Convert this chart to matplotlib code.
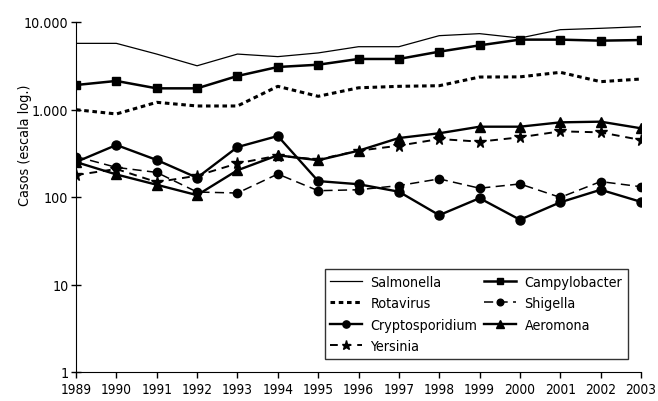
import matplotlib.pyplot as plt
from matplotlib.ticker import FixedLocator, NullLocator

# condensed sans to mimic the narrow font of the original
plt.rcParams["font.family"] = ["DejaVu Sans"]
plt.rcParams["font.stretch"] = "condensed"

years = list(range(1989, 2004))

salmonella = [5700, 5700, 4300, 3160, 4300, 4020, 4430, 5220, 5220, 6980,
              7360, 6560, 8170, 8470, 8840]
campylobacter = [1905, 2120, 1745, 1745, 2415, 3060, 3250, 3780, 3780, 4580,
                 5410, 6290, 6290, 6120, 6220]
rotavirus = [995, 889, 1208, 1097, 1097, 1840, 1415, 1770, 1840, 1870,
             2350, 2360, 2660, 2080, 2230]
shigella = [290, 218, 191, 114, 111, 183, 118, 121, 135, 161,
            126, 141, 99, 150, 131]
cryptosporidium = [251, 393, 265, 166, 372, 498, 152, 140, 115, 62,
                   97, 55, 87, 121, 88]
aeromona = [251, 181, 138, 105, 202, 300, 263, 338, 472, 535,
            636, 636, 713, 726, 610]
yersinia = [178, 209, 148, 175, 242, 297, 268, 338, 386, 460,
            429, 481, 563, 548, 448]

fig = plt.figure(figsize=(6.58, 4.02), dpi=100)
ax = fig.add_axes([76 / 658, 29 / 402, 565 / 658, 350 / 402])

h_sal, = ax.plot(years, salmonella, color="black", lw=0.9, label="Salmonella")
h_cam, = ax.plot(years, campylobacter, color="black", lw=1.8, marker="s",
                 ms=6, label="Campylobacter")
h_rot, = ax.plot(years, rotavirus, color="black", lw=2.2,
                 linestyle=(0, (1.5, 1.2)), label="Rotavirus")
h_shi, = ax.plot(years, shigella, color="black", lw=1.1,
                 linestyle=(0, (6, 3.5)), marker="o", ms=6, label="Shigella")
h_cry, = ax.plot(years, cryptosporidium, color="black", lw=1.7, marker="o",
                 ms=6.5, label="Cryptosporidium")
h_aer, = ax.plot(years, aeromona, color="black", lw=1.7, marker="^",
                 ms=6.5, label="Aeromona")
h_yer, = ax.plot(years, yersinia, color="black", lw=1.4,
                 linestyle=(0, (4, 3)), marker="*", ms=8.5, label="Yersinia")

ax.set_yscale("log")
ax.set_ylim(1, 10000)
ax.set_xlim(1989, 2003)
ax.yaxis.set_major_locator(FixedLocator([1, 10, 100, 1000, 10000]))
ax.yaxis.set_minor_locator(NullLocator())
ax.set_yticklabels(["1", "10", "100", "1.000", "10.000"])
ax.set_xticks(years)
ax.set_xticklabels([str(y) for y in years])

ax.spines["top"].set_visible(False)
ax.spines["right"].set_visible(False)
ax.tick_params(axis="y", direction="inout", length=7, width=1, labelsize=10.2,
               pad=2)
ax.tick_params(axis="x", direction="out", length=4, width=1, labelsize=9.8,
               pad=3)
ax.set_ylabel("Casos (escala log.)", fontsize=10.3)
ax.yaxis.set_label_coords(-0.078, 0.65)

handles = [h_sal, h_rot, h_cry, h_yer, h_cam, h_shi, h_aer]
leg = ax.legend(handles=handles, ncol=2, loc="lower right",
                bbox_to_anchor=(0.977, 0.037), fontsize=10.3, frameon=True,
                fancybox=False, edgecolor="black", handlelength=2.2,
                columnspacing=0.5, labelspacing=0.52, borderpad=0.4,
                handletextpad=0.6, borderaxespad=0, markerscale=0.8)
leg.get_frame().set_linewidth(1)

fig.savefig("out.png", dpi=100)
